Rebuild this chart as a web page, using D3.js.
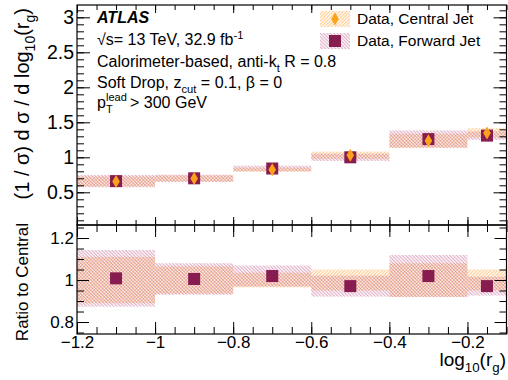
<!DOCTYPE html>
<html>
<head>
<meta charset="utf-8">
<script src="https://cdn.jsdelivr.net/npm/d3@7"></script>
<style>
  body { margin: 0; background: #fff; }
  text { font-family: "Liberation Sans", Arial, sans-serif; fill: #000; }
</style>
</head>
<body>
<svg id="chart" width="508" height="380"></svg>
<script>
// bins in log10(r_g)
const binEdges = [-1.2, -1.0, -0.8, -0.6, -0.4, -0.2, -0.1];

// top panel: normalised cross section
const centralValues = [0.655, 0.697, 0.824, 1.03, 1.236, 1.349];
const centralErrors = [0.072, 0.045, 0.029, 0.052, 0.099, 0.067];
const forwardValues = [0.66, 0.70, 0.84, 1.0, 1.26, 1.31];
const forwardErrors = [0.088, 0.052, 0.041, 0.052, 0.124, 0.061];

// bottom panel: ratio to central
const ratioForward = [1.008, 1.005, 1.019, 0.971, 1.019, 0.971];
const ratioForwardErrors = [0.135, 0.075, 0.05, 0.05, 0.1, 0.045];
const ratioCentralErrors = [0.11, 0.065, 0.035, 0.05, 0.08, 0.05];

const topTicks = [0.5, 1, 1.5, 2, 2.5, 3];
const ratioTicks = [0.8, 1, 1.2];
const xTicks = [-1.2, -1, -0.8, -0.6, -0.4, -0.2];

const ORANGE = "#fba21c";
const PURPLE = "#871c50";

const X0 = 77, X1 = 506.5;
const TOP_Y0 = 5, TOP_Y1 = 225, RAT_Y1 = 334;

const svg = d3.select("#chart");

const x = d3.scaleLinear().domain([-1.2, -0.1]).range([X0, X1]);
const yTop = d3.scaleLinear().domain([0.033, 3.176]).range([TOP_Y1, TOP_Y0]);
const yRatio = d3.scaleLinear().domain([0.743, 1.262]).range([RAT_Y1, TOP_Y1]);

// hatch patterns (ROOT-like fill styles)
const defs = svg.append("defs");
function hatch(id, color, angle, opacity) {
  const p = defs.append("pattern")
    .attr("id", id)
    .attr("patternUnits", "userSpaceOnUse")
    .attr("width", 2.4)
    .attr("height", 2.4)
    .attr("patternTransform", `rotate(${angle})`);
  p.append("line")
    .attr("x1", 0.6).attr("y1", 0).attr("x2", 0.6).attr("y2", 2.4)
    .attr("stroke", color)
    .attr("stroke-opacity", opacity)
    .attr("stroke-width", 1.1);
}
hatch("hatchCentral", "#ffb45a", 45, 0.7);
hatch("hatchForward", "#b8437a", -45, 0.45);

const bins = d3.range(binEdges.length - 1).map((i) => ({
  lo: binEdges[i],
  hi: binEdges[i + 1],
  mid: (binEdges[i] + binEdges[i + 1]) / 2,
  c: centralValues[i],
  ce: centralErrors[i],
  f: forwardValues[i],
  fe: forwardErrors[i],
  r: ratioForward[i],
  re: ratioForwardErrors[i],
  rc: ratioCentralErrors[i],
}));

function bands(g, scale, val, err, fill) {
  g.append("g")
    .selectAll("rect")
    .data(bins)
    .join("rect")
    .attr("x", (d) => x(d.lo))
    .attr("width", (d) => x(d.hi) - x(d.lo))
    .attr("y", (d) => scale(val(d) + err(d)))
    .attr("height", (d) => scale(val(d) - err(d)) - scale(val(d) + err(d)))
    .attr("fill", fill);
}

const diamond = (cx, cy) =>
  `M${cx},${cy - 6.5}L${cx + 3.8},${cy}L${cx},${cy + 6.5}L${cx - 3.8},${cy}Z`;

function squares(g, scale, val) {
  g.append("g")
    .selectAll("rect")
    .data(bins)
    .join("rect")
    .attr("x", (d) => x(d.mid) - 6)
    .attr("y", (d) => scale(val(d)) - 6)
    .attr("width", 12)
    .attr("height", 12)
    .attr("fill", PURPLE);
}

// ---- top panel ----
const topPanel = svg.append("g");
bands(topPanel, yTop, (d) => d.c, (d) => d.ce, "url(#hatchCentral)");
bands(topPanel, yTop, (d) => d.f, (d) => d.fe, "url(#hatchForward)");
squares(topPanel, yTop, (d) => d.f);
topPanel.append("g")
  .selectAll("path")
  .data(bins)
  .join("path")
  .attr("d", (d) => diamond(x(d.mid), yTop(d.c)))
  .attr("fill", ORANGE);

// ---- ratio panel ----
const ratioPanel = svg.append("g");
bands(ratioPanel, yRatio, () => 1, (d) => d.rc, "url(#hatchCentral)");
bands(ratioPanel, yRatio, (d) => d.r, (d) => d.re, "url(#hatchForward)");
squares(ratioPanel, yRatio, (d) => d.r);

// ---- axes ----
function yAxes(scale, major, minor, majLen, minLen, fontSize) {
  const g = svg.append("g");
  g.append("g")
    .attr("transform", `translate(${X0},0)`)
    .call(d3.axisLeft(scale).tickValues(minor).tickSize(-minLen).tickFormat(""));
  g.append("g")
    .attr("transform", `translate(${X0},0)`)
    .call(d3.axisLeft(scale).tickValues(major).tickSize(-majLen).tickPadding(3)
      .tickFormat(d3.format("~g")))
    .selectAll("text")
    .attr("font-size", fontSize);
  g.append("g")
    .attr("transform", `translate(${X1},0)`)
    .call(d3.axisRight(scale).tickValues(minor).tickSize(-minLen).tickFormat(""));
  g.append("g")
    .attr("transform", `translate(${X1},0)`)
    .call(d3.axisRight(scale).tickValues(major).tickSize(-majLen).tickFormat(""));
  g.selectAll(".domain").remove();
  g.selectAll("line").attr("stroke", "#000");
  g.selectAll("g").attr("font-family", null);
}

function xAxes(yUp, yDown, majLen, minLen, labels) {
  const minor = d3.range(-1.2, -0.099, 0.05);
  const g = svg.append("g");
  // ticks along top edge (pointing down)
  g.append("g")
    .attr("transform", `translate(0,${yUp})`)
    .call(d3.axisTop(x).tickValues(minor).tickSize(-minLen).tickFormat(""));
  g.append("g")
    .attr("transform", `translate(0,${yUp})`)
    .call(d3.axisTop(x).tickValues(xTicks).tickSize(-majLen).tickFormat(""));
  // ticks along bottom edge (pointing up)
  g.append("g")
    .attr("transform", `translate(0,${yDown})`)
    .call(d3.axisBottom(x).tickValues(minor).tickSize(-minLen).tickFormat(""));
  const b = g.append("g")
    .attr("transform", `translate(0,${yDown})`)
    .call(d3.axisBottom(x).tickValues(xTicks).tickSize(-majLen).tickPadding(2)
      .tickFormat(labels ? d3.format("~g") : ""));
  b.selectAll("text").attr("font-size", 17);
  g.selectAll(".domain").remove();
  g.selectAll("line").attr("stroke", "#000");
  g.selectAll("g").attr("font-family", null);
}

yAxes(yTop, topTicks, d3.range(0.1, 3.15, 0.1), 13, 7, 19.5);
yAxes(yRatio, ratioTicks, d3.range(0.75, 1.26, 0.05), 12, 7, 17);
xAxes(TOP_Y0, TOP_Y1, 8, 5, false);
xAxes(TOP_Y1, RAT_Y1, 12, 7, true);

// frames
[[TOP_Y0, TOP_Y1], [TOP_Y1, RAT_Y1]].forEach(([a, b]) => {
  svg.append("rect")
    .attr("x", X0).attr("y", a)
    .attr("width", X1 - X0).attr("height", b - a)
    .attr("fill", "none").attr("stroke", "#000").attr("stroke-width", 1.2);
});

// ---- titles ----
function rich(g, parts, size) {
  // parts: [text, kind] where kind is 'sub' / 'sup' / undefined
  const t = g.append("text").attr("font-size", size);
  let prev = 0;
  parts.forEach(([s, kind]) => {
    const off = kind === "sub" ? size * 0.3 : kind === "sup" ? -size * 0.4 : 0;
    t.append("tspan")
      .attr("dy", off - prev)
      .attr("font-size", kind ? size * 0.7 : size)
      .text(s);
    prev = off;
  });
  return t;
}

rich(svg.append("g").attr("transform", "translate(29,8) rotate(-90)"),
  [["(1 / σ) d σ / d log"], ["10", "sub"], ["(r"], ["g", "sub"], [")"]], 20)
  .attr("text-anchor", "end");

svg.append("text")
  .attr("transform", "translate(28,223) rotate(-90)")
  .attr("text-anchor", "end")
  .attr("font-size", 17)
  .text("Ratio to Central");

rich(svg.append("g").attr("transform", "translate(506,366)"),
  [["log"], ["10", "sub"], ["(r"], ["g", "sub"], [")"]], 19)
  .attr("text-anchor", "end");

// ---- labels ----
const info = svg.append("g").attr("transform", "translate(97,0)");
info.append("text")
  .attr("y", 23)
  .attr("font-size", 16)
  .attr("font-weight", "bold")
  .attr("font-style", "italic")
  .text("ATLAS");
rich(info.append("g").attr("transform", "translate(0,45)"),
  [["√s= 13 TeV, 32.9 fb"], ["-1", "sup"]], 16);
rich(info.append("g").attr("transform", "translate(0,67)"),
  [["Calorimeter-based, anti-k"], ["t", "sub"], [" R = 0.8"]], 16);
rich(info.append("g").attr("transform", "translate(0,88)"),
  [["Soft Drop, z"], ["cut", "sub"], [" = 0.1, β = 0"]], 16);
const pt = info.append("g").attr("transform", "translate(0,108)");
pt.append("text").attr("font-size", 16).text("p");
pt.append("text").attr("x", 9).attr("y", -7).attr("font-size", 11).text("lead");
pt.append("text").attr("x", 9).attr("y", 5).attr("font-size", 11).text("T");
pt.append("text").attr("x", 33).attr("font-size", 16).text("> 300 GeV");

// ---- legend ----
const legendItems = ["Data, Central Jet", "Data, Forward Jet"];
const legend = svg.append("g").attr("transform", "translate(320,0)");
legendItems.forEach((label, i) => {
  const cy = 19 + i * 22;
  legend.append("rect")
    .attr("x", 0).attr("y", cy - 8)
    .attr("width", 30).attr("height", 16)
    .attr("fill", i === 0 ? "url(#hatchCentral)" : "url(#hatchForward)");
  if (i === 0) {
    legend.append("path").attr("d", diamond(15, cy)).attr("fill", ORANGE);
  } else {
    legend.append("rect")
      .attr("x", 9).attr("y", cy - 6).attr("width", 12).attr("height", 12)
      .attr("fill", PURPLE);
  }
  legend.append("text")
    .attr("x", 37).attr("y", cy + 5)
    .attr("font-size", 15.5)
    .text(label);
});
</script>
</body>
</html>
